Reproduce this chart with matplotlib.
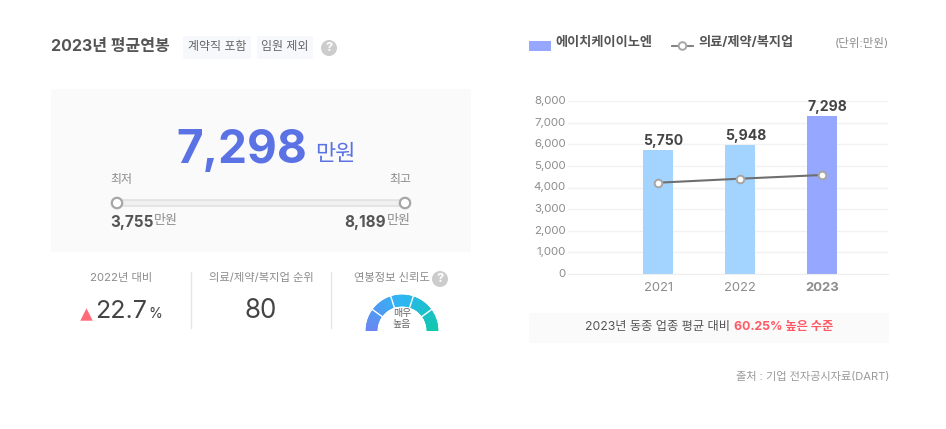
import matplotlib

matplotlib.use("Agg")

import matplotlib.pyplot as plt
import numpy as np
from matplotlib.colors import LinearSegmentedColormap
from matplotlib.patches import Circle, FancyBboxPatch, Rectangle, Wedge
from matplotlib.transforms import ScaledTranslation

# latin and digits from Inter, hangul falls through to the CJK family
plt.rcParams["font.family"] = ["Inter", "Noto Sans CJK KR", "DejaVu Sans"]

W, H = 946, 429

years = ["2021", "2022", "2023"]
company_pay = [5750, 5948, 7298]
industry_pay = [4222, 4407, 4578]
y_ticks = [0, 1000, 2000, 3000, 4000, 5000, 6000, 7000, 8000]
bar_colors = ["#a3d4ff", "#a3d4ff", "#96a7ff"]
gauge_stops = ["#6a86f2", "#2cb6f3", "#0fc7ad"]
gauge_dividers = [36, 72, 108, 144]

DARK = "#555555"
GREY = "#8c8c8c"
BLUE = "#5a72e4"
RED = "#ff5a64"


def px(size):
    # sizes below are read in screen pixels, text wants points
    return size * 72 / 100


fig = plt.figure(figsize=(W / 100, H / 100), dpi=100, facecolor="white")

# whole page overlay in pixel coordinates, y pointing down like the screenshot
page = fig.add_axes([0, 0, 1, 1])
page.set_xlim(0, W)
page.set_ylim(H, 0)
page.axis("off")


def label(x, y, s, size, color=DARK, ha="left", weight="normal"):
    return page.text(x, y, s, fontsize=px(size), color=color, ha=ha, va="center", fontweight=weight)


def help_icon(x, y, r=8):
    page.add_patch(Circle((x, y), r, facecolor="#cccccc", edgecolor="none"))
    page.text(x, y, "?", fontsize=px(r * 1.6), color="white", ha="center", va="center", fontweight="bold")


def chip(x, y, w, h, color):
    page.add_patch(
        FancyBboxPatch(
            (x + 2, y + 2), w - 4, h - 4, boxstyle="round,pad=2", facecolor=color, edgecolor="none"
        )
    )


# header
label(51, 46, "2023년 평균연봉", 16, DARK, weight="bold")
chip(183, 36, 68, 23, "#f6f8fc")
chip(257, 36, 56, 23, "#f6f8fc")
label(217, 47, "계약직 포함", 12, "#666666", ha="center")
label(285, 47, "임원 제외", 12, "#666666", ha="center")
help_icon(329, 48)

# big salary box
page.add_patch(Rectangle((51, 89), 420, 163, facecolor="#fafafa", edgecolor="none"))
label(241.5, 151, "7,298", 46, BLUE, ha="center", weight="bold")
label(335, 154, "만원", 22, BLUE, ha="center")
label(110.5, 180, "최저", 12, GREY)
label(411, 180, "최고", 12, GREY, ha="right")

page.add_patch(
    FancyBboxPatch(
        (116, 200), 290, 6, boxstyle="round,pad=0,rounding_size=2",
        facecolor="#f0f0f0", edgecolor="#dddddd", linewidth=1,
    )
)
for knob_x in (117, 405):
    page.add_patch(Circle((knob_x, 203), 5.2, facecolor="white", edgecolor="#a6a6a6", linewidth=1.6, zorder=3))

label(110, 222, "3,755", 15.3, DARK, weight="bold")
label(154, 221, "만원", 13, GREY)
label(386, 222, "8,189", 15.3, DARK, ha="right", weight="bold")
label(411, 221, "만원", 13, GREY, ha="right")

# three small stats under the box
label(121, 278, "2022년 대비", 11.3, GREY, ha="center")
page.scatter([86], [314], marker="^", s=80, color="#ff6b78", linewidths=0)
label(121.5, 312, "22.7", 25, "#444444", ha="center")
label(155, 314, "%", 14, "#444444", ha="center")

label(261, 278, "의료/제약/복지업 순위", 11.3, GREY, ha="center")
label(261, 311, "80", 26, "#444444", ha="center")

label(391.5, 278, "연봉정보 신뢰도", 11.3, GREY, ha="center")
help_icon(440, 279)

for sep_x in (191, 331):
    page.plot([sep_x, sep_x], [272, 328], color="#e6e6e6", linewidth=1)

# gauge, drawn as thin slices so the colour runs left to right
gauge_cx, gauge_cy = 402, 331
gauge_cmap = LinearSegmentedColormap.from_list("gauge", gauge_stops)
for a in np.arange(0, 180, 1.5):
    c = gauge_cmap(a / 180)
    page.add_patch(
        Wedge(
            (gauge_cx, gauge_cy), 36, 180 + a, 180 + a + 2, width=11,
            facecolor=c, edgecolor=c, linewidth=0.4,
        )
    )
for a in gauge_dividers:
    t = np.deg2rad(a)
    page.plot(
        [gauge_cx - 24 * np.cos(t), gauge_cx - 37 * np.cos(t)],
        [gauge_cy - 24 * np.sin(t), gauge_cy - 37 * np.sin(t)],
        color="white", linewidth=1,
    )
page.add_patch(Rectangle((360, 331), 84, 6, facecolor="white", edgecolor="none", zorder=4))
label(402, 313, "매우", 10, "#666666", ha="center")
label(402, 324, "높음", 10, "#666666", ha="center")

# legend and unit
page.add_patch(Rectangle((529, 41), 22, 10, facecolor="#96a7ff", edgecolor="none"))
label(555, 43, "에이치케이이노엔", 13.2, DARK, weight="bold")
page.plot([672, 693], [46, 46], color="#777777", linewidth=1.3)
page.add_patch(Circle((682.5, 46), 3.8, facecolor="white", edgecolor="#a6a6a6", linewidth=1.4, zorder=3))
label(698, 43, "의료/제약/복지업", 13.2, DARK, weight="bold")
label(889, 43, "(단위:만원)", 11.5, GREY, ha="right")

# bar chart with its own axes, limits worked out from the pixel positions of the bars
ax_left, ax_right, ax_top, ax_bottom = 568, 888, 101, 274
ax = fig.add_axes(
    [ax_left / W, 1 - ax_bottom / H, (ax_right - ax_left) / W, (ax_bottom - ax_top) / H]
)
ax.patch.set_alpha(0)
x = np.arange(len(years))
bar_w = 30 / 82
ax.bar(x, company_pay, width=bar_w, color=bar_colors, zorder=2)
ax.plot(
    x, industry_pay, color="#6f6f6f", linewidth=1.5, marker="o", markersize=5.5,
    markerfacecolor="white", markeredgecolor="#a6a6a6", markeredgewidth=1.4, zorder=3,
)
# the value labels start at the left edge of the bar instead of being centred
for xi, val in zip(x, company_pay):
    ax.text(
        xi - bar_w / 2, val + 90, f"{val:,}", ha="left", va="bottom", fontsize=px(14),
        color="#444444", fontweight="bold",
    )
ax.set_xlim(-90 / 82, 2 + 66 / 82)
ax.set_ylim(0, 8000)
ax.set_yticks(y_ticks)
ax.set_yticklabels([f"{t:,}" for t in y_ticks], fontsize=px(11.5), color=GREY)
ax.set_xticks(x)
ax.set_xticklabels(years, fontsize=px(13), color=GREY)
ax.get_xticklabels()[-1].set_fontweight("bold")
ax.tick_params(axis="both", length=0)
ax.tick_params(axis="y", pad=1.5)
ax.tick_params(axis="x", pad=5.5)
# tick labels sit about a pixel above their gridlines in the reference
nudge = ScaledTranslation(0, 1 / 100, fig.dpi_scale_trans)
for tick_label in ax.get_yticklabels():
    tick_label.set_transform(tick_label.get_transform() + nudge)
ax.grid(axis="y", color="#f2f2f2", linewidth=1, zorder=0)
for side in ax.spines:
    ax.spines[side].set_visible(False)
ax.spines["bottom"].set_visible(True)
ax.spines["bottom"].set_color("#eeeeee")

# comparison strip
page.add_patch(Rectangle((529, 313), 360, 30, facecolor="#fafafa", edgecolor="none"))
label(729.5, 327, "2023년 동종 업종 평균 대비", 12.2, "#555555", ha="right")
label(733.5, 327, "60.25% 높은 수준", 12.3, RED, weight="bold")

label(889, 377, "출처 : 기업 전자공시자료(DART)", 11.2, "#999999", ha="right")

fig.savefig("out.png", dpi=100, facecolor="white")
plt.close(fig)
